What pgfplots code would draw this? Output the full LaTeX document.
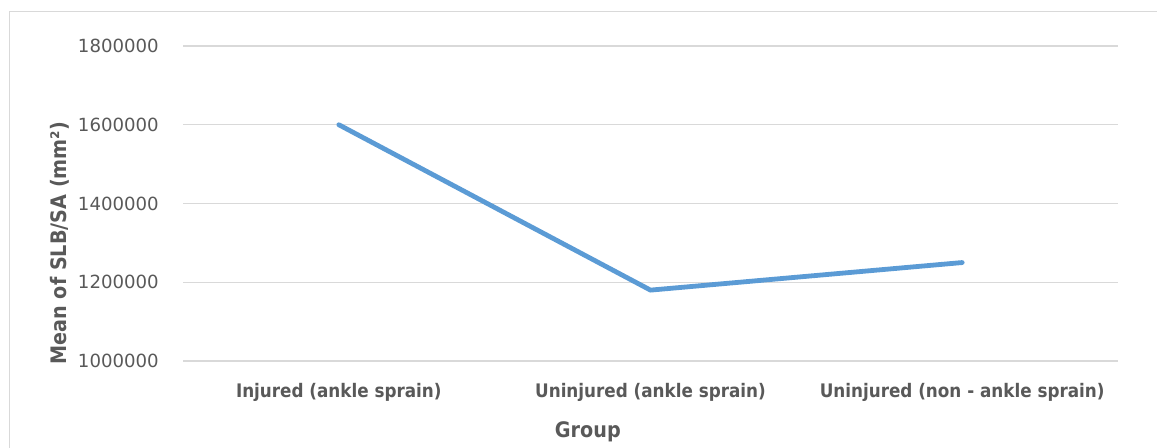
\documentclass[border=0pt]{standalone}
\usepackage{pgfplots}
\pgfplotsset{compat=1.18}
\usepackage{fontspec}
\setmainfont{DejaVu Sans}
\newfontfamily\condfont{DejaVu Sans Condensed}
\definecolor{txtgrey}{HTML}{595959}
\definecolor{gridgrey}{HTML}{D9D9D9}
\definecolor{lineblue}{HTML}{5B9BD5}
\begin{document}
\begin{tikzpicture}
\useasboundingbox (0,0) rectangle (867.75pt,336pt);
\begin{scope}
\clip (0,0) rectangle (867.75pt,336pt);
\draw[gridgrey, line width=1.2pt] (7.1pt,-5pt) -- (7.1pt,327.4pt) -- (880pt,327.4pt);
\end{scope}
\begin{axis}[
  at={(137.25pt,65.25pt)}, anchor=south west,
  scale only axis, width=701.25pt, height=236.25pt,
  xmin=-0.5, xmax=2.5, ymin=1000000, ymax=1800000,
  xtick={0,1,2},
  xticklabels={Injured (ankle sprain),Uninjured (ankle sprain),Uninjured (non - ankle sprain)},
  ytick={1000000,1200000,1400000,1600000,1800000},
  scaled y ticks=false,
  yticklabel={\pgfmathprintnumber[fixed,precision=0,1000 sep={}]{\tick}},
  /pgf/number format/assume math mode=true,
  axis line style={draw=none},
  major tick length=0pt,
  ymajorgrids, grid style={gridgrey, line width=0.8pt},
  tick label style={color=txtgrey},
  yticklabel style={font=\fontsize{13.6}{15}\selectfont, anchor=east, inner sep=0pt, xshift=-18pt},
  xticklabel style={font=\condfont\bfseries\fontsize{14}{16}\selectfont, anchor=base, inner sep=0pt, yshift=-27.75pt},
  xlabel={Group},
  ylabel={Mean of SLB/SA (mm²)},
  x label style={font=\condfont\bfseries\fontsize{16}{18}\selectfont, color=txtgrey, at={(axis description cs:0.433,0)}, anchor=base, inner sep=0pt, yshift=-57.75pt},
  y label style={font=\condfont\bfseries\fontsize{16}{18}\selectfont, color=txtgrey, at={(axis description cs:0,0.374)}, anchor=base, inner sep=0pt, yshift=87pt},
  clip=false,
]
\addplot[lineblue, line width=3.6pt, line cap=round, line join=round] coordinates {(0,1600000) (1,1180000) (2,1250000)};
\end{axis}
\end{tikzpicture}
\end{document}
